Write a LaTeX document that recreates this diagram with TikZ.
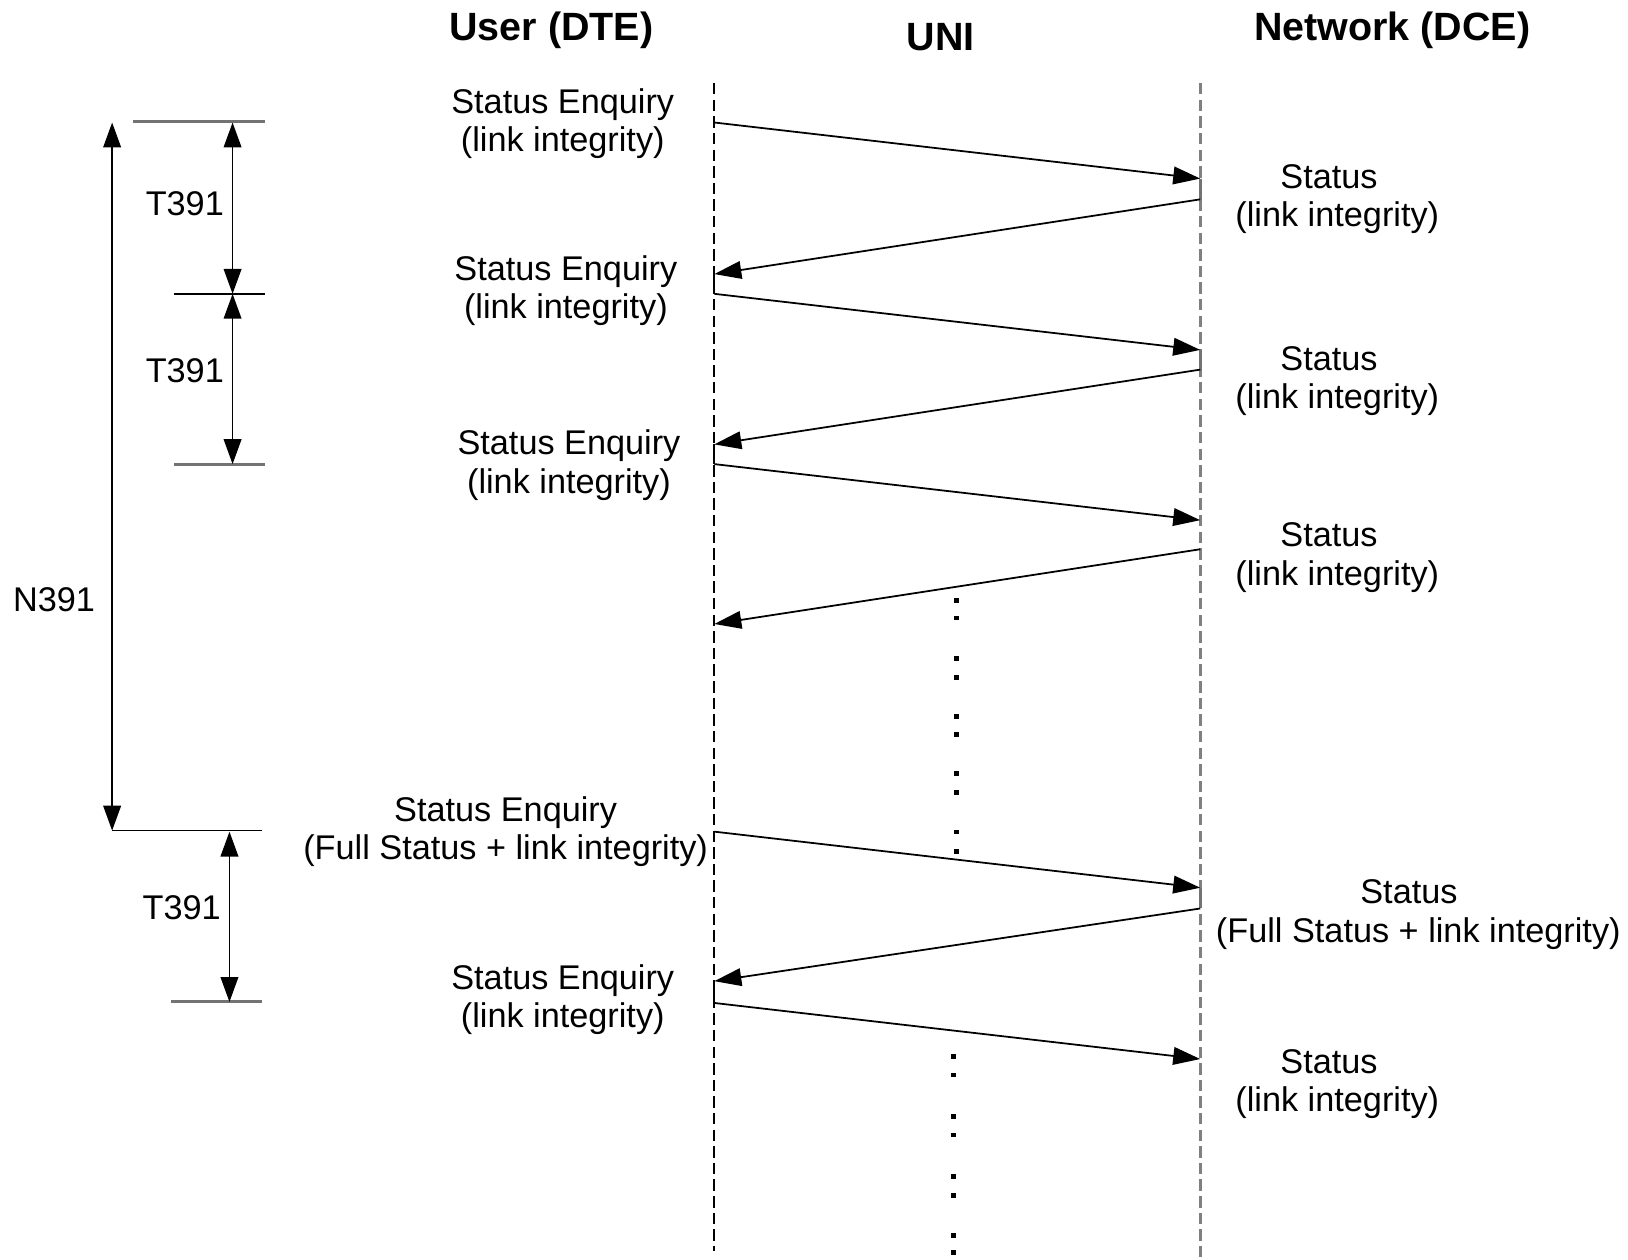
\documentclass[tikz,border=0pt]{standalone}
\usepackage{fontspec}
\setmainfont{Liberation Sans}
\usetikzlibrary{arrows.meta}

\tikzset{
  msg/.style={line width=0.85pt, -{Triangle[length=13pt,width=8.5pt]}},
  span/.style={line width=0.85pt, {Triangle[length=12pt,width=8.5pt]}-{Triangle[length=12pt,width=8.5pt]}},
  lifeuser/.style={line width=0.85pt, dash pattern=on 5.5pt off 2.5pt},
  lifenet/.style={line width=1.3pt, black!50, dash pattern=on 5.5pt off 2.5pt},
  holduser/.style={line width=0.85pt},
  holdnet/.style={line width=1.3pt, black!55},
  tickgray/.style={line width=1.4pt, black!55},
  tickblack/.style={line width=0.85pt},
  lbl/.style={inner sep=0pt, align=center, font=\fontsize{16.5pt}{18.5pt}\selectfont},
  head/.style={inner sep=0pt, font=\fontsize{19pt}{22pt}\selectfont\bfseries},
  dotmark/.style={fill=black}
}

\begin{document}
\begin{tikzpicture}[x=0.5pt,y=-0.5pt]
\useasboundingbox (0,0) rectangle (1568,1213);

% column headings
\node[head] (hUser) at (531,29) {User (DTE)};
\node[head] (hUni)  at (906,36) {UNI};
\node[head] (hNet)  at (1341,29) {Network (DCE)};

% lifelines
\coordinate (uTop) at (688,80);
\coordinate (uBot) at (688,1205);
\coordinate (nTop) at (1156,80);
\coordinate (nBot) at (1156,1213);
\draw[lifeuser] (uTop) -- (uBot);
\draw[lifenet]  (nTop) -- (nBot);

% message end points on the lifelines
\coordinate (u1) at (688,118);  \coordinate (n1) at (1156,172);
\coordinate (n2) at (1156,192); \coordinate (u2) at (688,264);
\coordinate (u3) at (688,283);  \coordinate (n3) at (1156,337);
\coordinate (n4) at (1156,356); \coordinate (u4) at (688,428);
\coordinate (u5) at (688,447);  \coordinate (n5) at (1156,501);
\coordinate (n6) at (1156,529); \coordinate (u6) at (688,601);
\coordinate (u7) at (688,801);  \coordinate (n7) at (1156,855);
\coordinate (n8) at (1156,875); \coordinate (u8) at (688,945);
\coordinate (u9) at (688,966);  \coordinate (n9) at (1156,1020);

% processing intervals between receive and reply
\draw[holdnet]  (n1) -- (n2);
\draw[holdnet]  (n3) -- (n4);
\draw[holdnet]  (n7) -- (n8);
\draw[holduser] (u2) -- (u3);
\draw[holduser] (u4) -- (u5);
\draw[holduser] (u8) -- (u9);

% messages
\draw[msg] (u1) -- (n1);
\draw[msg] (n2) -- (u2);
\draw[msg] (u3) -- (n3);
\draw[msg] (n4) -- (u4);
\draw[msg] (u5) -- (n5);
\draw[msg] (n6) -- (u6);
\draw[msg] (u7) -- (n7);
\draw[msg] (n8) -- (u8);
\draw[msg] (u9) -- (n9);

% message labels, user side
\node[lbl] (se1) at (542,119) {Status Enquiry\\(link integrity)};
\node[lbl] (se2) at (545,280) {Status Enquiry\\(link integrity)};
\node[lbl] (se3) at (548,448) {Status Enquiry\\(link integrity)};
\node[lbl] (se4) at (487,801) {Status Enquiry\\(Full Status + link integrity)};
\node[lbl] (se5) at (542,963) {Status Enquiry\\(link integrity)};

% message labels, network side
\node[lbl] (st1) at (1288,192) {Status\hspace*{8pt}\\(link integrity)};
\node[lbl] (st2) at (1288,367) {Status\hspace*{8pt}\\(link integrity)};
\node[lbl] (st3) at (1288,537) {Status\hspace*{8pt}\\(link integrity)};
\node[lbl] (st4) at (1366,881) {Status\hspace*{9pt}\\(Full Status + link integrity)};
\node[lbl] (st5) at (1288,1044) {Status\hspace*{8pt}\\(link integrity)};

% elision marks
\foreach \y in {578,595,634,652,690,707,745,763,801,820}
  \fill[dotmark] (919,\y-2) rectangle ++(4.5,4.5);
\foreach \y in {1017,1035,1075,1093,1133,1151,1190,1206}
  \fill[dotmark] (916,\y-2) rectangle ++(4.5,4.5);

% timer and counter brackets
\coordinate (tTopL) at (128,117);  \coordinate (tTopR) at (255,117);
\coordinate (tM1L)  at (168,283);  \coordinate (tM1R)  at (255,283);
\coordinate (tM2L)  at (168,447);  \coordinate (tM2R)  at (255,447);
\coordinate (tBotL) at (108,800);  \coordinate (tBotR) at (252,800);
\coordinate (tEndL) at (165,965);  \coordinate (tEndR) at (252,965);
\draw[tickgray]  (tTopL) -- (tTopR);
\draw[tickblack] (tM1L) -- (tM1R);
\draw[tickgray]  (tM2L) -- (tM2R);
\draw[tickblack] (tBotL) -- (tBotR);
\draw[tickgray]  (tEndL) -- (tEndR);

\coordinate (nA) at (108,118);  \coordinate (nB) at (108,800);
\coordinate (a1) at (224,118);  \coordinate (a2) at (224,283);
\coordinate (a3) at (224,447);
\coordinate (b1) at (221,801);  \coordinate (b2) at (221,965);
\draw[span] (nA) -- (nB);
\draw[span] (a1) -- (a2);
\draw[span] (a2) -- (a3);
\draw[span] (b1) -- (b2);

\node[lbl] (lN)  at (52,578)  {N391};
\node[lbl] (lT1) at (178,196) {T391};
\node[lbl] (lT2) at (178,357) {T391};
\node[lbl] (lT3) at (175,874) {T391};
\end{tikzpicture}
\end{document}
